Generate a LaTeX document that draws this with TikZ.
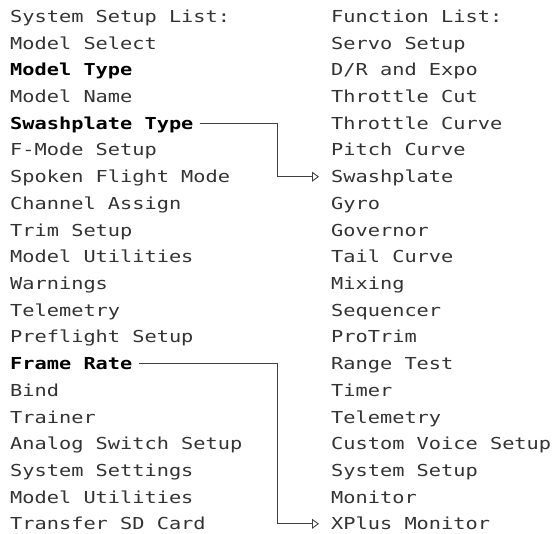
\documentclass[tikz,border=0pt]{standalone}
\usepackage{fontspec}
\setmonofont{DejaVu Sans Mono}[FakeStretch=1.23]
\usetikzlibrary{arrows.meta}
\newcommand{\hlt}[1]{\textcolor{black}{\bfseries #1}}
\begin{document}
\begin{tikzpicture}[x=1pt,y=-1pt,
  txt/.style={anchor=base west, inner sep=0pt, text=black!80,
    font=\ttfamily\fontsize{16.5}{18}\selectfont},
  link/.style={draw=black!75, line width=0.9pt,
    -{Triangle[open,length=7pt,width=10pt]}}]
\useasboundingbox (0,0) rectangle (553,534);
\foreach \t [count=\i] in {System Setup List:, Model Select, \hlt{Model Type},
  Model Name, \hlt{Swashplate Type}, F-Mode Setup, Spoken Flight Mode,
  Channel Assign, Trim Setup, Model Utilities, Warnings, Telemetry,
  Preflight Setup, \hlt{Frame Rate}, Bind, Trainer, Analog Switch Setup,
  System Settings, Model Utilities, Transfer SD Card}
  \node[txt] (L\i) at (10,{22.5+(\i-1)*26.7}) {\t};
\foreach \t [count=\i] in {Function List:, Servo Setup, D/R and Expo,
  Throttle Cut, Throttle Curve, Pitch Curve, Swashplate, Gyro, Governor,
  Tail Curve, Mixing, Sequencer, ProTrim, Range Test, Timer, Telemetry,
  Custom Voice Setup, System Setup, Monitor, XPlus Monitor}
  \node[txt] (R\i) at (331,{22.5+(\i-1)*26.7}) {\t};
\coordinate (b) at (277,0);
\path ([xshift=6pt,yshift=6pt]L5.base east) coordinate (s1)
      ([xshift=-12pt,yshift=6pt]R7.base west) coordinate (e1)
      ([xshift=6pt,yshift=6pt]L14.base east) coordinate (s2)
      ([xshift=-12pt,yshift=6pt]R20.base west) coordinate (e2);
\draw[link] (s1) -- (s1 -| b) -- (b |- e1) -- (e1);
\draw[link] (s2) -- (s2 -| b) -- (b |- e2) -- (e2);
\end{tikzpicture}
\end{document}
